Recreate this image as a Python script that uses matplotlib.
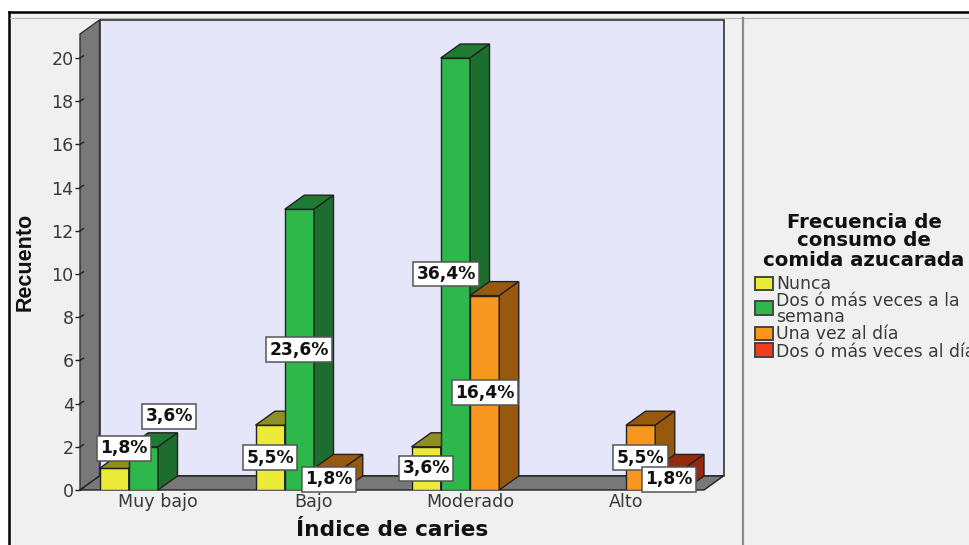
import matplotlib
matplotlib.use('Agg')
import matplotlib.pyplot as plt
from matplotlib.patches import Polygon, Rectangle
from matplotlib.lines import Line2D

categories = ['Muy bajo', 'Bajo', 'Moderado', 'Alto']
series_names = ['Nunca', 'Dos ó más veces a la\nsemana', 'Una vez al día', 'Dos ó más veces al día']
nunca = [1, 3, 2, 0]
dos_semana = [2, 13, 20, 0]
una_dia = [0, 1, 9, 3]
dos_dia = [0, 0, 0, 1]
nunca_pct = ['1,8%', '5,5%', '3,6%', '']
dos_semana_pct = ['3,6%', '23,6%', '36,4%', '']
una_dia_pct = ['', '1,8%', '16,4%', '5,5%']
dos_dia_pct = ['', '', '', '1,8%']
yticks = list(range(0, 21, 2))

W, H = 969, 545
values = [nunca, dos_semana, una_dia, dos_dia]
pcts = [nunca_pct, dos_semana_pct, una_dia_pct, dos_dia_pct]
front = ['#ecec38', '#2eb84c', '#f8971d', '#f13d1c']
top_c = ['#8f8f24', '#1f7a33', '#98590f', '#96280f']
side_c = ['#8f8f24', '#1d6d2e', '#98590f', '#96280f']

plt.rcParams['font.family'] = ['DejaVu Sans']
fig = plt.figure(figsize=(W / 100, H / 100), dpi=100, facecolor='white')


def fx(x):
    return x / W


def fy(y):
    return 1 - y / H


# panel and frame
fig.add_artist(Rectangle((fx(9), 0), fx(960), fy(12), transform=fig.transFigure, fc='#f0f0f0', ec='none', zorder=-5))
fig.add_artist(Line2D([fx(9), fx(9)], [0, fy(12)], color='black', lw=1.8, zorder=-4))
fig.add_artist(Line2D([fx(9), 1], [fy(12), fy(12)], color='black', lw=1.8, zorder=-4))
fig.add_artist(Line2D([fx(10), 1], [fy(18), fy(18)], color='#b4b4b4', lw=0.8, zorder=-4))
fig.add_artist(Line2D([fx(743), fx(743)], [0, fy(18)], color='#8c8c8c', lw=1.6, zorder=-4))

ax = fig.add_axes([fx(80), fy(490), fx(624), fy(34) - fy(490)])
ax.set_xlim(0, 4)
ax.set_ylim(0, 456 / 21.6)
ax.patch.set_visible(False)
for s in ax.spines.values():
    s.set_visible(False)

dx = 19.5 / 156
dy = 14 / 21.6
ymax = ax.get_ylim()[1]
edge = '#222222'

# 3d walls
ax.add_patch(Polygon([(dx, dy), (4 + dx, dy), (4 + dx, ymax + dy), (dx, ymax + dy)], fc='#e6e6fb', ec='#333333', lw=1.2, clip_on=False))
ax.add_patch(Polygon([(0, 0), (dx, dy), (dx, ymax + dy), (0, ymax)], fc='#787878', ec='#333333', lw=1, clip_on=False))
ax.add_patch(Polygon([(0, 0), (4, 0), (4 + dx, dy), (dx, dy)], fc='#787878', ec='#222222', lw=1, clip_on=False))

width = 0.1875
for s, vals in enumerate(values):
    for i, v in enumerate(vals):
        if v == 0:
            continue
        x0 = i + 0.5 + (s - 2) * width
        x1 = x0 + width
        ax.bar(x0, v, width, align='edge', color=front[s], edgecolor=edge, lw=1, zorder=3 + s)
        ax.add_patch(Polygon([(x0, v), (x1, v), (x1 + dx, v + dy), (x0 + dx, v + dy)], fc=top_c[s], ec=edge, lw=1, zorder=3 + s, clip_on=False))
        ax.add_patch(Polygon([(x1, 0), (x1 + dx, dy), (x1 + dx, v + dy), (x1, v)], fc=side_c[s], ec=edge, lw=1, zorder=3 + s, clip_on=False))

# labels sit at the middle of the bar, a few are pushed away (offset in pixels)
nudge = {(0, 0): (10, 31), (1, 0): (26, 52), (1, 2): (-9, 0), (3, 3): (-1, 0)}
for s, labs in enumerate(pcts):
    for i, lab in enumerate(labs):
        if lab == '':
            continue
        xc = i + 0.5 + (s - 2) * width + width / 2
        off = nudge.get((s, i), (0, 0))
        ax.annotate(lab, (xc, values[s][i] / 2), xytext=(off[0] * 0.72, off[1] * 0.72), textcoords='offset points',
                    ha='center', va='center', fontsize=12.3, fontweight='bold', color='#111111', zorder=20,
                    bbox=dict(boxstyle='square,pad=0.2', fc='white', ec='#555555', lw=1.1), annotation_clip=False)

ax.set_xticks([i + 0.5 for i in range(4)])
ax.set_xticklabels(categories, fontsize=12.6, color='#3a3a3a')
ax.tick_params(axis='x', length=0, pad=2)
ax.set_yticks(yticks)
ax.set_yticklabels([str(t) for t in yticks], fontsize=12.6, color='#3a3a3a')
ax.tick_params(axis='y', length=3.5, width=1, color='#222222', pad=1)
for t in yticks:
    ax.plot([0, 0.022], [t, t + 0.1], color='#222222', lw=1, zorder=2, clip_on=False)
fig.text(fx(392), fy(530), 'Índice de caries', fontsize=15.6, fontweight='bold', color='#111111', ha='center', va='center')
fig.text(fx(25), fy(262), 'Recuento', rotation=90, fontsize=15.5, fontweight='bold', ha='center', va='center',
         color='#111111', family='Liberation Sans')

# legend
for txt, y in zip(['Frecuencia de', 'consumo de', 'comida azucarada'], [222, 241, 261]):
    fig.text(fx(864), fy(y), txt, fontsize=14.2, fontweight='bold', ha='center', va='center', color='#111111')
legend_y = [284, 309, 334, 352]
swatch_y = [283, 308, 333, 350]
for name, c, y, sy in zip(series_names, front, legend_y, swatch_y):
    fig.add_artist(Rectangle((fx(755), fy(sy + 6.5)), fx(18), fy(sy - 6.5) - fy(sy + 6.5), transform=fig.transFigure, fc=c, ec='#444444', lw=1.4))
    fig.text(fx(776), fy(y), name, fontsize=12.4, ha='left', va='center', color='#3a3a3a', linespacing=0.92)

fig.savefig('out.png', dpi=100)
